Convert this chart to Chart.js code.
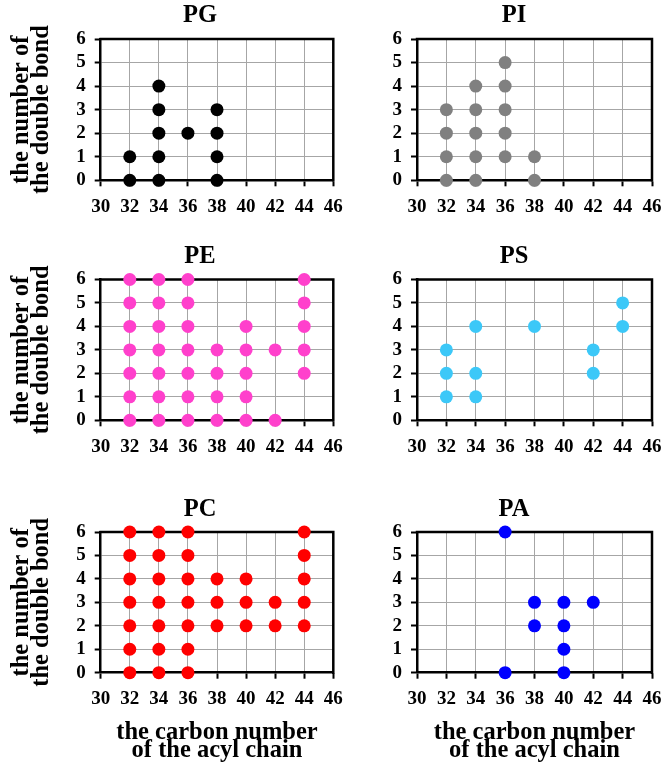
<!DOCTYPE html>
<html><head><meta charset="utf-8">
<script src="https://cdn.jsdelivr.net/npm/chart.js@4.4.1/dist/chart.umd.min.js"></script>
<style>
html,body{margin:0;padding:0;background:#fff;overflow:hidden;width:670px;height:771px;position:relative;}
canvas{position:absolute;}
</style></head>
<body>
<canvas id="cPG"></canvas><canvas id="cPI"></canvas>
<canvas id="cPE"></canvas><canvas id="cPS"></canvas>
<canvas id="cPC"></canvas><canvas id="cPA"></canvas>
<script>
// ---- data ----
const carbonTicks = [30, 32, 34, 36, 38, 40, 42, 44, 46];
const bondTicks = [0, 1, 2, 3, 4, 5, 6];
const yTitleLines = ['the number of', 'the double bond'];
const xTitleLines = ['the carbon number', 'of the acyl chain'];
const panelTitles = ['PG', 'PI', 'PE', 'PS', 'PC', 'PA'];

const pgCarbon = [32, 32, 34, 34, 34, 34, 34, 36, 38, 38, 38, 38];
const pgBonds  = [0, 1, 0, 1, 2, 3, 4, 2, 0, 1, 2, 3];

const piCarbon = [32, 32, 32, 32, 34, 34, 34, 34, 34, 36, 36, 36, 36, 36, 38, 38];
const piBonds  = [0, 1, 2, 3, 0, 1, 2, 3, 4, 1, 2, 3, 4, 5, 0, 1];

const peCarbon = [32, 32, 32, 32, 32, 32, 32, 34, 34, 34, 34, 34, 34, 34, 36, 36, 36, 36, 36, 36, 36,
                  38, 38, 38, 38, 40, 40, 40, 40, 40, 42, 42, 44, 44, 44, 44, 44];
const peBonds  = [0, 1, 2, 3, 4, 5, 6, 0, 1, 2, 3, 4, 5, 6, 0, 1, 2, 3, 4, 5, 6,
                  0, 1, 2, 3, 0, 1, 2, 3, 4, 0, 3, 2, 3, 4, 5, 6];

const psCarbon = [32, 32, 32, 34, 34, 34, 38, 42, 42, 44, 44];
const psBonds  = [1, 2, 3, 1, 2, 4, 4, 2, 3, 4, 5];

const pcCarbon = [32, 32, 32, 32, 32, 32, 32, 34, 34, 34, 34, 34, 34, 34, 36, 36, 36, 36, 36, 36, 36,
                  38, 38, 38, 40, 40, 40, 42, 42, 44, 44, 44, 44, 44];
const pcBonds  = [0, 1, 2, 3, 4, 5, 6, 0, 1, 2, 3, 4, 5, 6, 0, 1, 2, 3, 4, 5, 6,
                  2, 3, 4, 2, 3, 4, 2, 3, 2, 3, 4, 5, 6];

const paCarbon = [36, 36, 38, 38, 40, 40, 40, 40, 42];
const paBonds  = [0, 6, 2, 3, 0, 1, 2, 3, 3];

// ---- rendering ----
Chart.defaults.font.family = "'Liberation Serif', 'Times New Roman', serif";
Chart.defaults.font.weight = 'bold';
Chart.defaults.color = '#000';

const frame = {
  id: 'frame',
  beforeDatasetsDraw(chart) {
    const {ctx, chartArea: {left, top, right, bottom}} = chart;
    ctx.save();
    ctx.strokeStyle = '#000';
    ctx.lineWidth = 2.5;
    ctx.beginPath();
    ctx.moveTo(left - 1.25, top);
    ctx.lineTo(right, top);
    ctx.lineTo(right, bottom + 1.25);
    ctx.stroke();
    ctx.restore();
  }
};

function panel(o) {
  const cv = document.getElementById(o.id);
  cv.width = o.w; cv.height = o.h;
  cv.style.left = o.left + 'px';
  cv.style.top = o.top + 'px';
  const xH = o.top + o.h - o.plotBottom;
  const titlePadBottom = o.plotTop - o.top - 3.3 - 24.5;
  new Chart(cv, {
    type: 'scatter',
    data: {
      datasets: [{
        data: o.xs.map((x, i) => ({x: x, y: o.ys[i]})),
        backgroundColor: o.color,
        borderWidth: 0,
        pointRadius: 6.5,
        pointHoverRadius: 6.5,
        clip: false,
        xAxisID: 'x', yAxisID: 'y'
      }]
    },
    options: {
      responsive: false,
      animation: false,
      devicePixelRatio: 1,
      layout: {padding: 0},
      events: [],
      plugins: {
        legend: {display: false},
        tooltip: {enabled: false},
        title: {
          display: true, text: o.title, color: '#000',
          font: {size: 24.5, weight: 'bold', lineHeight: 1},
          padding: {top: 3.3, bottom: titlePadBottom}
        }
      },
      scales: {
        x: {
          type: 'linear', position: 'bottom',
          min: carbonTicks[0], max: carbonTicks[carbonTicks.length - 1],
          ticks: {stepSize: carbonTicks[1] - carbonTicks[0], color: '#000', font: {size: 19, weight: 'bold'},
                  padding: 9, maxRotation: 0, autoSkip: false},
          grid: {color: '#a6a6a6', lineWidth: 1, tickColor: '#000', tickLength: 6, tickWidth: 2},
          border: {color: '#000', width: 2.5},
          title: {display: o.showX, text: xTitleLines, color: '#000',
                  font: {size: 24.5, weight: 'bold', lineHeight: 18 / 24.5},
                  padding: {top: 0, bottom: 11}},
          afterFit(s) { s.height = xH; }
        },
        y: {
          type: 'linear', position: 'left',
          min: bondTicks[0], max: bondTicks[bondTicks.length - 1],
          ticks: {stepSize: bondTicks[1] - bondTicks[0], color: '#000', font: {size: 19, weight: 'bold'},
                  padding: 9, autoSkip: false},
          grid: {color: '#a6a6a6', lineWidth: 1, tickColor: '#000', tickLength: 6, tickWidth: 2},
          border: {color: '#000', width: 2.5},
          title: {display: o.showY, text: yTitleLines, color: '#000',
                  font: {size: 24.5, weight: 'bold', lineHeight: 20 / 24.5},
                  padding: {top: 11.5, bottom: 0}},
          afterFit(s) { s.width = o.yW; }
        },
        yr: {
          type: 'linear', position: 'right', display: true,
          ticks: {display: false},
          grid: {display: false, drawTicks: false},
          border: {display: false},
          afterFit(s) { s.width = o.rW; }
        }
      }
    },
    plugins: [frame]
  });
}

const leftCol = {left: 0, w: 400, yW: 100.7, rW: 66.7};
const rightCol = {left: 356, w: 316, yW: 61, rW: 20};
const rows = [
  {top: 0, h: 220, plotTop: 39, plotBottom: 180.3},
  {top: 241, h: 219, plotTop: 279.5, plotBottom: 420.3},
  {top: 494, h: 277, plotTop: 532, plotBottom: 672.7}
];
const panelData = [
  [pgCarbon, pgBonds, '#000000'],
  [piCarbon, piBonds, '#808080'],
  [peCarbon, peBonds, '#ff40cc'],
  [psCarbon, psBonds, '#3cc8f8'],
  [pcCarbon, pcBonds, '#ff0000'],
  [paCarbon, paBonds, '#0000ff']
];

panelTitles.forEach((t, i) => {
  const col = i % 2 === 0 ? leftCol : rightCol;
  const row = rows[Math.floor(i / 2)];
  panel(Object.assign({}, col, row, {
    id: 'c' + t, title: t,
    xs: panelData[i][0], ys: panelData[i][1], color: panelData[i][2],
    showY: i % 2 === 0, showX: i >= 4
  }));
});
</script>
</body></html>
